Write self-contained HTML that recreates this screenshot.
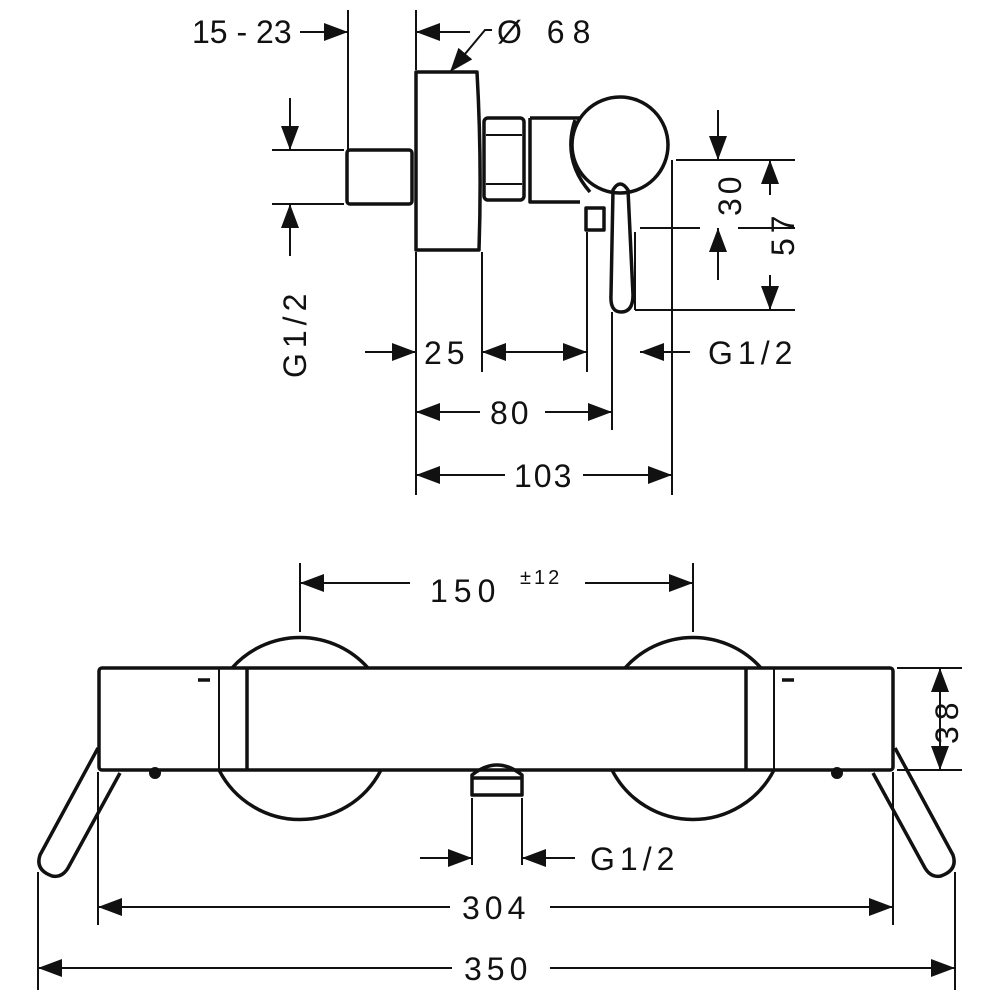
<!DOCTYPE html>
<html><head><style>html,body{margin:0;padding:0;background:#fff}svg{display:block}text{font-family:"Liberation Sans",sans-serif;font-size:32px;fill:#111}</style></head><body>
<svg width="1000" height="1000" viewBox="0 0 1000 1000" xmlns="http://www.w3.org/2000/svg">
<defs>
<marker id="a" viewBox="0 0 24 18" refX="24" refY="9" markerWidth="24" markerHeight="18" markerUnits="userSpaceOnUse" orient="auto-start-reverse"><path d="M0,0L24,9L0,18z" fill="#111"/></marker>
</defs>
<g stroke="#111" stroke-width="2" fill="none">
<line x1="348" y1="10" x2="348" y2="150"/>
<line x1="300" y1="32" x2="348" y2="32" marker-end="url(#a)"/>
<line x1="416" y1="10" x2="416" y2="70"/>
<line x1="470" y1="32" x2="416" y2="32" marker-end="url(#a)"/>
<polyline points="492,30 485,30 450,72" marker-end="url(#a)"/>
<line x1="272" y1="150" x2="344" y2="150"/>
<line x1="272" y1="204" x2="344" y2="204"/>
<line x1="290" y1="98" x2="290" y2="150" marker-end="url(#a)"/>
<line x1="290" y1="256" x2="290" y2="204" marker-end="url(#a)"/>
<line x1="416" y1="252" x2="416" y2="495"/>
<line x1="482" y1="252" x2="482" y2="372"/>
<line x1="587" y1="232" x2="587" y2="372"/>
<line x1="612" y1="312" x2="612" y2="430"/>
<line x1="635" y1="232" x2="635" y2="310"/>
<line x1="672" y1="160" x2="672" y2="495"/>
<line x1="676" y1="160" x2="795" y2="160"/>
<line x1="640" y1="228" x2="700" y2="228"/>
<line x1="738" y1="228" x2="795" y2="228"/>
<line x1="635" y1="310" x2="795" y2="310"/>
<line x1="718" y1="110" x2="718" y2="160" marker-end="url(#a)"/>
<line x1="718" y1="280" x2="718" y2="228" marker-end="url(#a)"/>
<line x1="770" y1="195" x2="770" y2="160" marker-end="url(#a)"/>
<line x1="770" y1="275" x2="770" y2="310" marker-end="url(#a)"/>
<line x1="365" y1="352" x2="416" y2="352" marker-end="url(#a)"/>
<line x1="482" y1="352" x2="587" y2="352" marker-start="url(#a)" marker-end="url(#a)"/>
<line x1="690" y1="352" x2="640" y2="352" marker-end="url(#a)"/>
<line x1="416" y1="412" x2="480" y2="412" marker-start="url(#a)"/>
<line x1="545" y1="412" x2="612" y2="412" marker-end="url(#a)"/>
<line x1="416" y1="475" x2="505" y2="475" marker-start="url(#a)"/>
<line x1="583" y1="475" x2="672" y2="475" marker-end="url(#a)"/>
<line x1="300" y1="563" x2="300" y2="632"/>
<line x1="693" y1="563" x2="693" y2="632"/>
<line x1="300" y1="583" x2="410" y2="583" marker-start="url(#a)"/>
<line x1="585" y1="583" x2="693" y2="583" marker-end="url(#a)"/>
<line x1="897" y1="668" x2="962" y2="668"/>
<line x1="897" y1="770" x2="962" y2="770"/>
<line x1="940" y1="668" x2="940" y2="770" marker-start="url(#a)" marker-end="url(#a)"/>
<line x1="472" y1="798" x2="472" y2="865"/>
<line x1="522" y1="798" x2="522" y2="865"/>
<line x1="420" y1="858" x2="472" y2="858" marker-end="url(#a)"/>
<line x1="575" y1="858" x2="522" y2="858" marker-end="url(#a)"/>
<line x1="98" y1="772" x2="98" y2="925"/>
<line x1="893" y1="772" x2="893" y2="925"/>
<line x1="38" y1="872" x2="38" y2="990"/>
<line x1="955" y1="872" x2="955" y2="990"/>
<line x1="98" y1="907" x2="450" y2="907" marker-start="url(#a)"/>
<line x1="550" y1="907" x2="893" y2="907" marker-end="url(#a)"/>
<line x1="38" y1="968" x2="452" y2="968" marker-start="url(#a)"/>
<line x1="550" y1="968" x2="955" y2="968" marker-end="url(#a)"/>
</g>
<g stroke="#111" stroke-width="3.5" fill="none" stroke-linejoin="round">
<rect x="347" y="150" width="65" height="54" rx="3"/>
<path d="M416,72 H477 Q482,160 479,250 H416 Z"/>
<rect x="484" y="118" width="40" height="82" rx="4"/>
<line x1="486" y1="135" x2="522" y2="135" stroke-width="2"/>
<line x1="486" y1="184" x2="522" y2="184" stroke-width="2"/>
<path d="M530,118 H580 M530,118 V202 H580"/>
<circle cx="620" cy="145" r="48"/>
<path d="M575,120 Q562,160 590,192"/>
<rect x="586" y="208" width="18" height="22"/>
<path d="M613,190 Q620,178 628,190 L633,295 Q633,312 621,312 Q610,312 611,295 Z"/>
<path d="M232,668 A91,91 0 0 1 368,668"/>
<path d="M219,770 A91,91 0 0 0 381,770"/>
<path d="M625,668 A91,91 0 0 1 761,668"/>
<path d="M612,770 A91,91 0 0 0 774,770"/>
<rect x="99" y="668" width="794" height="102" rx="3"/>
<line x1="219" y1="668" x2="219" y2="770" stroke-width="2"/>
<line x1="247" y1="668" x2="247" y2="770"/>
<line x1="746" y1="668" x2="746" y2="770"/>
<line x1="774" y1="668" x2="774" y2="770" stroke-width="2"/>
<line x1="198" y1="680" x2="210" y2="680"/>
<line x1="782" y1="680" x2="794" y2="680"/>
<path d="M472,795 V775 Q497,755 522,775 V795 Z"/>
<line x1="472" y1="778" x2="522" y2="778"/>
<path d="M98,748 L40,855 Q35,870 52,876 Q62,878 68,868 L120,773"/>
<path d="M895,748 L953,855 Q958,870 941,876 Q931,878 925,868 L873,773"/>
</g>
<circle cx="155" cy="773" r="6" fill="#111"/>
<circle cx="837" cy="773" r="6" fill="#111"/>
<text x="192" y="43" letter-spacing="0">15 - 23</text>
<text x="497" y="43" letter-spacing="8">Ø 68</text>
<text x="424" y="364" letter-spacing="5">25</text>
<text x="708" y="364" letter-spacing="5">G1/2</text>
<text x="490" y="424" letter-spacing="3">80</text>
<text x="514" y="487" letter-spacing="2">103</text>
<text transform="translate(306,378) rotate(-90)" letter-spacing="5">G1/2</text>
<text transform="translate(741,216) rotate(-90)" letter-spacing="4">30</text>
<text transform="translate(794,256) rotate(-90)" letter-spacing="5">57</text>
<text x="430" y="602" letter-spacing="6">150</text>
<text x="520" y="584" style="font-size:20px" letter-spacing="3">±12</text>
<text transform="translate(958,744) rotate(-90)" letter-spacing="6">38</text>
<text x="590" y="870" letter-spacing="5">G1/2</text>
<text x="462" y="919" letter-spacing="5">304</text>
<text x="464" y="980" letter-spacing="5">350</text>
</svg>
</body></html>
